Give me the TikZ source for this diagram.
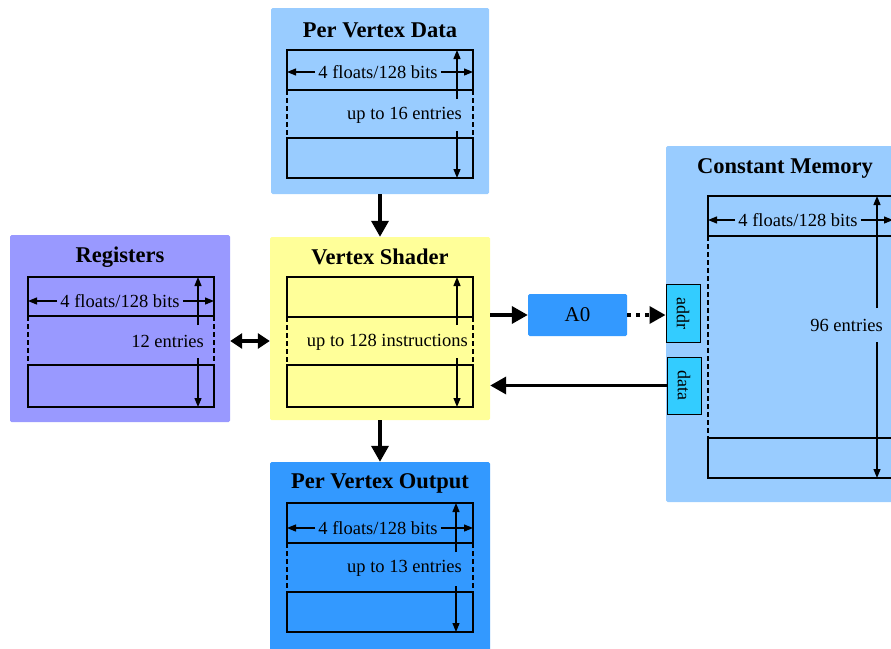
\documentclass[tikz,border=0pt]{standalone}
\usepackage{fontspec}
\setmainfont{Liberation Serif}
\usetikzlibrary{arrows.meta}

\definecolor{vdata}{HTML}{99CCFF}
\definecolor{regs}{HTML}{9999FF}
\definecolor{shader}{HTML}{FFFF99}
\definecolor{vout}{HTML}{3399FF}
\definecolor{port}{HTML}{33CCFF}

\tikzset{
  panel/.style={rectangle, inner sep=0pt, rounded corners=1.5pt},
  heading/.style={font=\fontsize{22.5}{26}\selectfont\bfseries},
  txt/.style={font=\fontsize{18.5}{22}\selectfont, inner sep=3pt},
  slot/.style={line width=1.2pt},
  dashline/.style={line width=1.2pt, dash pattern=on 5pt off 3pt},
  dim/.style={line width=1.2pt, -{Triangle[length=9pt,width=7pt]}},
  bus/.style={line width=3.5pt, -{Triangle[length=16pt,width=17pt]}},
}

\begin{document}
\begin{tikzpicture}[x=1pt, y=-1pt]
    \useasboundingbox (0,0) rectangle (891,648);
    \clip (0,0) rectangle (891,648);
    % panels
    \node[panel, fill=vdata, minimum width=218pt, minimum height=186pt] (pvd) at (380,101) {};
    \node[panel, fill=regs, minimum width=220pt, minimum height=187pt] (reg) at (120,328.5) {};
    \node[panel, fill=shader, minimum width=220pt, minimum height=183pt] (vs) at (380,328.5) {};
    \node[panel, fill=vout, minimum width=220pt, minimum height=190pt] (pvo) at (380,557) {};
    \node[panel, fill=vdata, minimum width=240pt, minimum height=356pt] (cm) at (786,324) {};
    \node[panel, fill=vout, minimum width=99pt, minimum height=42pt] (a0) at (577.5,315) {\fontsize{21}{25}\selectfont A0};
    \node[draw, fill=port, line width=1pt, inner sep=0pt, minimum width=34pt, minimum height=58pt] (addr) at (683,313) {\fontsize{18}{22}\selectfont\rotatebox{-90}{addr}};
    \node[draw, fill=port, line width=1pt, inner sep=0pt, minimum width=34pt, minimum height=57pt] (data) at (684,385.5) {\fontsize{18}{22}\selectfont\rotatebox{-90}{data}};

    \node[heading] (pvdt) at (380,30) {Per Vertex Data};
    \node[heading] (regt) at (120,257) {Registers};
    \node[heading] (vst) at (380,257) {Vertex Shader};
    \node[heading] (pvot) at (380,483) {Per Vertex Output};
    \node[heading] (cmt) at (785,168) {Constant Memory};

    % per vertex data
    \draw[slot] (287,50) rectangle (473,90);
    \draw[slot] (287,138) rectangle (473,178);
    \draw[dashline] (287,90) -- (287,138);
    \draw[dashline] (473,90) -- (473,138);
    \node[txt] (pvdw) at (378,72) {4 floats/128 bits};
    \draw[dim] (pvdw.west) -- (287,72);
    \draw[dim] (pvdw.east) -- (473,72);
    \node[txt, anchor=east] (pvdn) at (465,115) {up to 16 entries};
    \draw[dim] (457,99) -- (457,50);
    \draw[dim] (457,131) -- (457,178);

    % registers
    \draw[slot] (28,277) rectangle (214,316);
    \draw[slot] (28,365) rectangle (214,407);
    \draw[dashline] (28,316) -- (28,365);
    \draw[dashline] (214,316) -- (214,365);
    \node[txt] (regw) at (120,301) {4 floats/128 bits};
    \draw[dim] (regw.west) -- (28,301);
    \draw[dim] (regw.east) -- (214,301);
    \node[txt, anchor=east] (regn) at (207,341) {12 entries};
    \draw[dim] (198,325) -- (198,277);
    \draw[dim] (198,358) -- (198,407);

    % vertex shader
    \draw[slot] (287,277) rectangle (473,317);
    \draw[slot] (287,365) rectangle (473,407);
    \draw[dashline] (287,317) -- (287,365);
    \draw[dashline] (473,317) -- (473,365);
    \node[txt, anchor=east] (vsn) at (471,342) {up to 128 instructions};
    \draw[dim] (457,325) -- (457,277);
    \draw[dim] (457,358) -- (457,407);

    % per vertex output
    \draw[slot] (287,503) rectangle (473,543);
    \draw[slot] (287,592) rectangle (473,632);
    \draw[dashline] (287,543) -- (287,592);
    \draw[dashline] (473,543) -- (473,592);
    \node[txt] (pvow) at (378,528) {4 floats/128 bits};
    \draw[dim] (pvow.west) -- (287,528);
    \draw[dim] (pvow.east) -- (473,528);
    \node[txt, anchor=east] (pvon) at (465,568) {up to 13 entries};
    \draw[dim] (456,552) -- (456,503);
    \draw[dim] (456,586) -- (456,632);

    % constant memory
    \draw[slot] (708,196) rectangle (893,236);
    \draw[slot] (708,438) rectangle (893,478);
    \draw[dashline] (708,236) -- (708,438);
    \draw[dashline] (893,236) -- (893,438);
    \node[txt] (cmw) at (798,220) {4 floats/128 bits};
    \draw[dim] (cmw.west) -- (708,220);
    \draw[dim] (cmw.east) -- (893,220);
    \node[txt, anchor=east] (cmn) at (886,325) {96 entries};
    \draw[dim] (877,308) -- (877,196);
    \draw[dim] (877,342) -- (877,478);

    % connections
    \draw[bus] (pvd.south) -- (vs.north);
    \draw[bus] (vs.south) -- (pvo.north);
    \draw[bus, {Triangle[length=12pt,width=15pt]}-{Triangle[length=12pt,width=15pt]}] ([yshift=-12.5pt]reg.east) -- ([yshift=-12.5pt]vs.west);
    \draw[bus] (vs.east |- a0.west) -- (a0.west);
    \draw[bus, dash pattern=on 4pt off 5pt] (a0.east) -- (a0.east -| addr.west);
    \draw[bus] (data.west) -- (data.west -| vs.east);
\end{tikzpicture}
\end{document}
